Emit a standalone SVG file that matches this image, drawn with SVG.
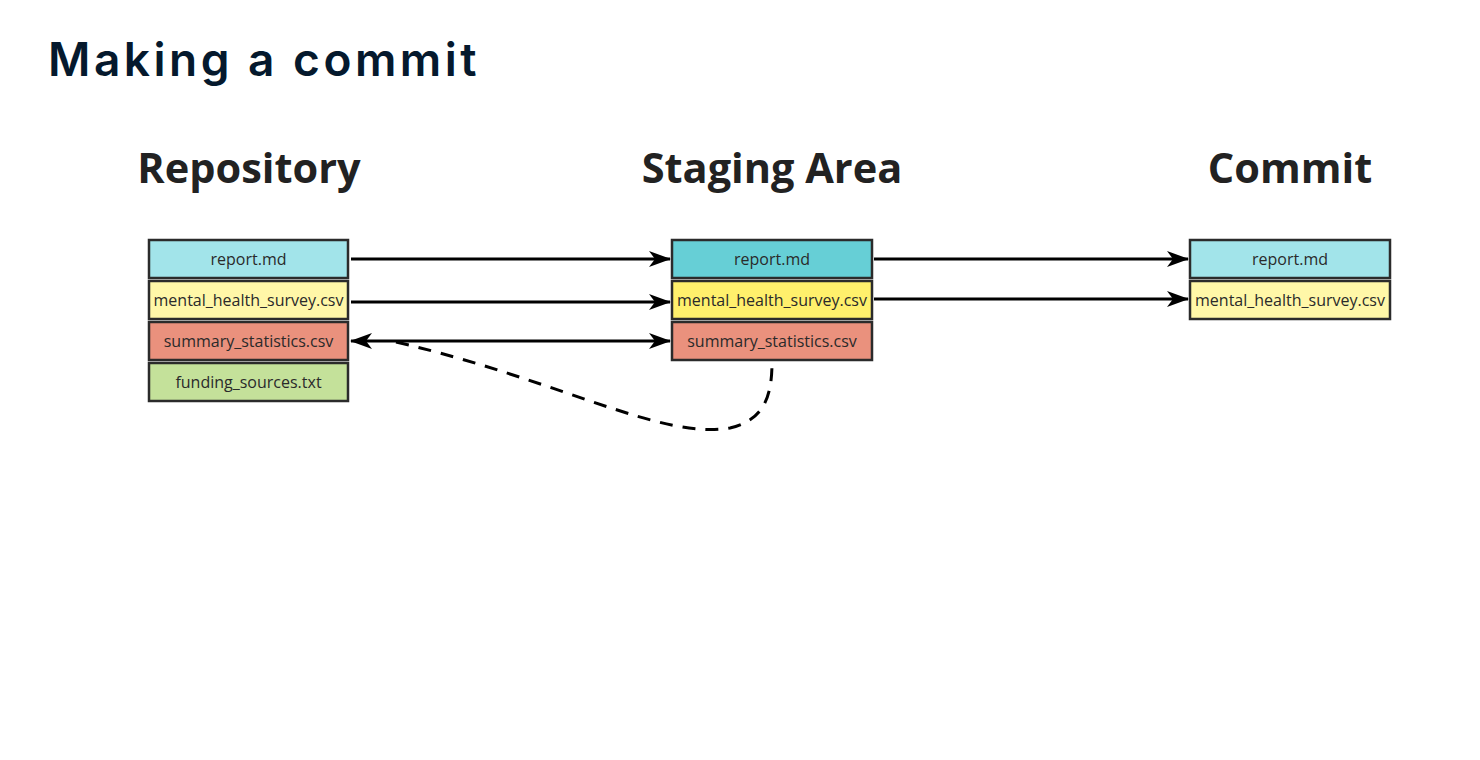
<svg xmlns="http://www.w3.org/2000/svg" width="1480" height="760" viewBox="0 0 1480 760">
<style>
.title{font-family:Inter,"Noto Sans",sans-serif;font-weight:600;font-size:46px;letter-spacing:3.5px;fill:#05192D}
.hdr{font-family:"Open Sans","Noto Sans",sans-serif;font-weight:700;font-size:41.5px;fill:#222;text-anchor:middle}
.cell{stroke:#2b2b2b;stroke-width:2.5}
.lbl{font-family:"Open Sans","Noto Sans",sans-serif;font-size:16px;fill:#2a2a2a;text-anchor:middle}
.arr{stroke:#000;stroke-width:3;fill:none}
.dash{stroke:#000;stroke-width:3;fill:none;stroke-dasharray:13 10}
</style>
<defs>
<marker id="ah" viewBox="0 0 22 16" refX="21" refY="8" markerWidth="22" markerHeight="16" markerUnits="userSpaceOnUse" orient="auto-start-reverse">
<path d="M0,0 L22,8 L0,16 L6,8 Z" fill="#000"/>
</marker>
</defs>
<rect width="1480" height="760" fill="#fff"/>
<text class="title" x="48" y="76">Making a commit</text>
<text class="hdr" x="249" y="183">Repository</text>
<text class="hdr" x="772" y="183">Staging Area</text>
<text class="hdr" x="1290" y="183">Commit</text>

<g id="connectors">
<line class="arr" x1="351" y1="259" x2="670" y2="259" marker-end="url(#ah)"/>
<line class="arr" x1="351" y1="302" x2="670" y2="302" marker-end="url(#ah)"/>
<line class="arr" x1="351" y1="341" x2="670" y2="341" marker-start="url(#ah)" marker-end="url(#ah)"/>
<line class="arr" x1="874" y1="259" x2="1188" y2="259" marker-end="url(#ah)"/>
<line class="arr" x1="874" y1="299" x2="1188" y2="299" marker-end="url(#ah)"/>
<path class="dash" d="M396 342 C560 380 660 440 730 428 C765 420 772 395 772 362"/>
</g>

<g id="repository">
<rect class="cell" x="149" y="240" width="199" height="38" fill="#A2E4EA"/>
<text class="lbl" x="248.5" y="265">report.md</text>
<rect class="cell" x="149" y="281" width="199" height="38" fill="#FFF7A8"/>
<text class="lbl" x="248.5" y="306">mental_health_survey.csv</text>
<rect class="cell" x="149" y="322" width="199" height="38" fill="#EA917D"/>
<text class="lbl" x="248.5" y="347">summary_statistics.csv</text>
<rect class="cell" x="149" y="363" width="199" height="38" fill="#C4E19A"/>
<text class="lbl" x="248.5" y="388">funding_sources.txt</text>
</g>

<g id="staging">
<rect class="cell" x="672" y="240" width="200" height="38" fill="#66CFD6"/>
<text class="lbl" x="772" y="265">report.md</text>
<rect class="cell" x="672" y="281" width="200" height="38" fill="#FFF06C"/>
<text class="lbl" x="772" y="306">mental_health_survey.csv</text>
<rect class="cell" x="672" y="322" width="200" height="38" fill="#EA917D"/>
<text class="lbl" x="772" y="347">summary_statistics.csv</text>
</g>

<g id="commit">
<rect class="cell" x="1190" y="240" width="200" height="38" fill="#A2E4EA"/>
<text class="lbl" x="1290" y="265">report.md</text>
<rect class="cell" x="1190" y="281" width="200" height="38" fill="#FFF7A8"/>
<text class="lbl" x="1290" y="306">mental_health_survey.csv</text>
</g>
</svg>
